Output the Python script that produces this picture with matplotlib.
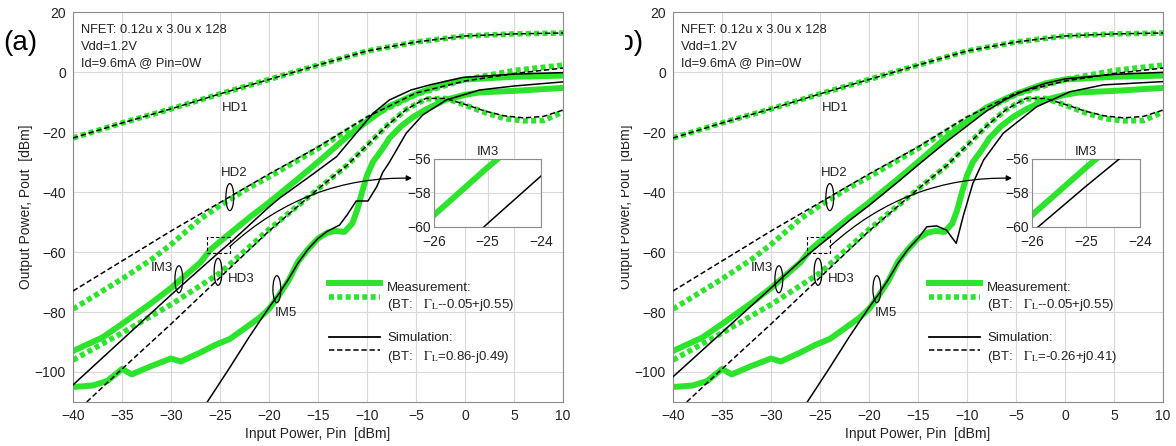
import matplotlib
matplotlib.use('Agg')
import matplotlib.pyplot as plt
from matplotlib.patches import Ellipse, Rectangle
from matplotlib.transforms import Bbox, TransformedBbox

plt.rcParams['font.family'] = ['Liberation Sans', 'DejaVu Sans']
plt.rcParams['mathtext.fontset'] = 'stix'

GREEN = '#2de42d'
TXT = '#222222'

# ---- measured curves (same in both panels) ----
hd1_pin = [-40, -35, -30, -25, -20, -15, -10, -5, 0, 5, 10]
hd1_meas = [-22, -17, -12.3, -7.3, -2.5, 2.3, 7, 10, 12, 12.7, 13]
hd1_sim = [-22, -17, -12.3, -7.3, -2.5, 2.3, 7, 10, 12, 12.7, 13]

hd2_meas_pin = [-40, -37, -35, -32, -30, -27, -25, -22, -20, -15, -10, -5, 0, 5, 10]
hd2_meas = [-79, -73, -69, -62.5, -57.5, -49, -44.5, -38.5, -35, -25.5, -15.5, -7.5, -2.5,
            0.5, 2.3]
hd2_sim_pin = [-40, -35, -30, -25, -20, -15, -10, -5, 0, 5, 10]
hd2_sim = [-73, -63, -53, -43.5, -34, -25, -15, -7, -3, -0.5, 1.3]

hd3_meas_pin = [-40, -35, -30, -25, -20, -15, -12, -10, -8, -6, -4, -2, 0, 2, 4, 6, 8, 10]
hd3_meas = [-96, -87, -77.5, -67, -52.5, -39, -31, -24.5, -18, -12.5, -9, -8.8, -11, -13.5,
            -15.5, -16.3, -16.2, -13.3]
hd3_sim_pin = [-38.6, -35, -30, -25, -20, -15, -12, -10, -8, -6, -4, -2, 0, 2, 4, 6, 8, 10]
hd3_sim = [-110, -99, -84, -68.5, -53, -39, -31, -24.5, -18, -12.5, -8.8, -8.8, -10.8, -13,
           -14.6, -15.3, -14.8, -12.7]

im3_meas_pin = [-40, -37, -35, -32, -30, -27, -26, -25, -22, -20, -17, -15, -12, -10, -8, -5,
                -2, 0, 5, 10]
im3_meas = [-93, -88.5, -84, -77, -72, -63.5, -59.3, -56.5, -48.5, -43.5, -35.5, -30, -21.5,
            -16.5, -11.8, -7.3, -3.8, -2.5, -1.6, -1.2]

im5_meas_pin = [-40, -38, -36.5, -35, -34, -32, -30, -29, -27, -25.5, -24, -22.5, -21, -20, -19,
                -18, -17, -16, -15, -14, -13.2, -12.3, -11.5, -11, -10.5, -10, -9.4, -8.5,
                -7.7, -6.5, -5.3, -4, -2, 0, 1.5, 5, 10]
im5_meas = [-105, -104.5, -103, -99, -100.8, -98, -95.5, -96.5, -93.5, -91, -89, -85.5, -82,
            -79, -74.5, -69.5, -63, -59, -55.5, -53.5, -53, -53.3, -50.5, -46, -40, -34.5, -30,
            -26, -22, -18, -15, -12.5, -9.3, -7.6, -6.8, -6.3, -5.3]

# ---- simulation, panel (a) ----
im3_sim_a_pin = [-40, -35, -30, -25, -24, -22, -20, -18.9, -15.5, -13.1, -11.1, -9.4, -7.7,
                 -5.5, -3.6, -0.2, 5, 10]
im3_sim_a = [-104.3, -89.3, -74.3, -59.8, -57, -51, -45, -42, -34, -28.2, -20.4, -13.8, -9.3,
             -6, -4.3, -1.8, -0.7, -0.2]
im5_sim_a_pin = [-26.3, -24, -22, -20, -19, -18, -17, -16, -15, -14.1, -12.8, -12, -11.1, -9.9,
                 -9, -8.4, -7.7, -6, -4.3, -1.9, 1.5, 4.9, 10]
im5_sim_a = [-110, -98.5, -88.2, -78.5, -74, -69, -63.5, -59, -55.5, -53.2, -51, -47.5, -43,
             -43, -38.2, -33.5, -30, -20.4, -14.3, -9.3, -6, -4.7, -3.3]

# ---- simulation, panel (b) ----
im3_sim_b_pin = [-40, -35, -30, -27, -26, -25, -24, -22, -20, -17, -15, -12, -10, -8, -6, -4,
                 -2, 0, 5, 10]
im3_sim_b = [-101.6, -86.8, -72, -63, -60.3, -57.6, -55, -49.5, -44.5, -36.5, -31, -23, -18,
             -13, -9, -6, -3.8, -2.3, -0.8, -0.1]
im5_sim_b_pin = [-26.3, -24, -22, -20, -19, -18, -17, -16, -15, -14.1, -13.1, -12.1, -11.1,
                 -10.4, -9.4, -8.3, -6.3, -2.9, 0.5, 3.9, 10]
im5_sim_b = [-110, -98.5, -88.2, -78.5, -74, -69, -63.5, -59, -55.5, -51.6, -51.3, -52.7, -57.1,
             -48.2, -37.1, -29.3, -20.4, -11.6, -6.6, -4.3, -3.2]

W, H = 1176, 446
fig = plt.figure(figsize=(W / 100, H / 100), dpi=100)


def px_rect(x0, y0, x1, y1):
    return [x0 / W, 1 - y1 / H, (x1 - x0) / W, (y1 - y0) / H]


def green(ax, x, y, dotted=False):
    if dotted:
        ax.plot(x, y, color=GREEN, lw=4.0, ls=(0, (0.9, 0.6)), dash_capstyle='butt', zorder=2)
    else:
        ax.plot(x, y, color=GREEN, lw=4.3, solid_capstyle='round', zorder=2)


def black(ax, x, y, dashed=False):
    if dashed:
        ax.plot(x, y, color='k', lw=1.1, ls=(0, (3.5, 1.8)), zorder=3)
    else:
        ax.plot(x, y, color='k', lw=1.1, zorder=3)


def style(ax, fs=10):
    ax.grid(True, color='#d9d9d9', lw=0.8)
    ax.set_axisbelow(True)
    for s in ax.spines.values():
        s.set_color('#8c8c8c')
        s.set_linewidth(0.8)
    ax.tick_params(length=0, labelsize=fs, labelcolor=TXT, pad=5)


def panel(ax, im3_sim_pin, im3_sim, im5_sim_pin, im5_sim, gamma_txt, inset_px):
    green(ax, hd1_pin, hd1_meas, dotted=True)
    green(ax, hd2_meas_pin, hd2_meas, dotted=True)
    green(ax, hd3_meas_pin, hd3_meas, dotted=True)
    green(ax, im3_meas_pin, im3_meas)
    green(ax, im5_meas_pin, im5_meas)
    black(ax, hd1_pin, hd1_sim, dashed=True)
    black(ax, hd2_sim_pin, hd2_sim, dashed=True)
    black(ax, hd3_sim_pin, hd3_sim, dashed=True)
    black(ax, im3_sim_pin, im3_sim)
    black(ax, im5_sim_pin, im5_sim)

    ax.set_xlim(-40, 10)
    ax.set_ylim(-110, 20)
    ax.set_xticks(range(-40, 11, 5))
    ax.set_yticks(range(-100, 21, 20))
    style(ax)
    ax.set_xlabel('Input Power, Pin  [dBm]', fontsize=10, color=TXT, labelpad=3)
    ylab = ax.set_ylabel('Output Power, Pout  [dBm]', fontsize=10, color=TXT, labelpad=1)

    for i, line in enumerate(['NFET: 0.12u x 3.0u x 128', 'Vdd=1.2V', 'Id=9.6mA @ Pin=0W']):
        ax.text(0.016, 0.954 - 0.043 * i, line, transform=ax.transAxes, fontsize=9.3,
                color=TXT, va='center', ha='left')

    # curve labels and ellipses
    labels = [('HD1', -23.4, -12), ('HD2', -23.6, -33.8), ('IM3', -30.9, -65.4),
              ('HD3', -22.8, -69.1), ('IM5', -18.3, -80.2)]
    for lbl, tx, ty in labels:
        ax.text(tx, ty, lbl, fontsize=9.5, color=TXT, ha='center', va='center', zorder=5)
    for ex, ey in [(-24, -41.7), (-29.2, -69.1), (-25.2, -66.6), (-19.2, -72.4)]:
        ax.add_patch(Ellipse((ex, ey), 0.8, 9, fill=False, ec='k', lw=0.9, zorder=5))

    # zoom window and arrow
    ax.add_patch(Rectangle((-26.3, -60.2), 2.3, 5.1, fill=False, ec='k', lw=0.8,
                           ls=(0, (3, 2)), zorder=5))
    ax.annotate('', xy=(-5.4, -35.4), xytext=(-24, -58.2),
                arrowprops=dict(arrowstyle='-|>', color='k', lw=0.9, mutation_scale=8,
                                shrinkA=0, shrinkB=0, connectionstyle='arc3,rad=-0.2'),
                zorder=5)

    # legend
    kw = dict(transform=ax.transAxes, clip_on=False)
    ax.plot([0.522, 0.627], [0.305, 0.305], color=GREEN, lw=4.3, **kw)
    ax.plot([0.522, 0.627], [0.269, 0.269], color=GREEN, lw=4.0, ls=(0, (0.9, 0.6)),
            dash_capstyle='butt', **kw)
    ax.plot([0.522, 0.627], [0.167, 0.167], color='k', lw=1.3, **kw)
    ax.plot([0.522, 0.627], [0.133, 0.133], color='k', lw=1.1, ls=(0, (3.5, 1.8)), **kw)
    tk = dict(transform=ax.transAxes, fontsize=9.5, color=TXT, va='center', ha='left')
    ax.text(0.641, 0.292, 'Measurement:', **tk)
    ax.text(0.641, 0.249, r'(BT:   $\Gamma_{\mathrm{L}}$--0.05+j0.55)', **tk)
    ax.text(0.641, 0.164, 'Simulation:', **tk)
    ax.text(0.641, 0.115, r'(BT:   $\Gamma_{\mathrm{L}}$' + gamma_txt + ')', **tk)

    # inset
    ins = fig.add_axes(px_rect(*inset_px))
    green(ins, im3_meas_pin, im3_meas)
    black(ins, im3_sim_pin, im3_sim)
    ins.set_xlim(-26, -24)
    ins.set_ylim(-60, -56)
    ins.set_xticks([-26, -25, -24])
    ins.set_yticks([-60, -58, -56])
    style(ins, fs=10)
    ins.tick_params(axis='x', pad=6)
    ins.tick_params(axis='y', pad=2)
    ins.set_title('IM3', fontsize=9.5, color=TXT, pad=3)
    return ylab


ax_a = fig.add_axes(px_rect(73, 12, 563, 402))
panel(ax_a, im3_sim_a_pin, im3_sim_a, im5_sim_a_pin, im5_sim_a, '=0.86-j0.49',
      (434, 159, 541, 227))
ax_b = fig.add_axes(px_rect(673, 12, 1163, 402))
ylab_b = panel(ax_b, im3_sim_b_pin, im3_sim_b, im5_sim_b_pin, im5_sim_b, '=-0.26+j0.41',
               (1032, 159, 1140, 227))

# panel (b) picture is partly covered on its left edge in the reference
ylab_b.set_clip_box(TransformedBbox(Bbox.from_extents(621 / W, 0, 1, 1), fig.transFigure))
ylab_b.set_clip_on(True)

fig.text(3 / W, 1 - 43 / H, '(a)', fontsize=20, color='k', ha='left', va='center')
tb = fig.text(609 / W, 1 - 43 / H, '(b)', fontsize=20, color='k', ha='left', va='center')
tb.set_clip_box(TransformedBbox(Bbox.from_extents(625 / W, 0, 1, 1), fig.transFigure))
tb.set_clip_on(True)

fig.savefig('out.png', dpi=100, facecolor='white')
